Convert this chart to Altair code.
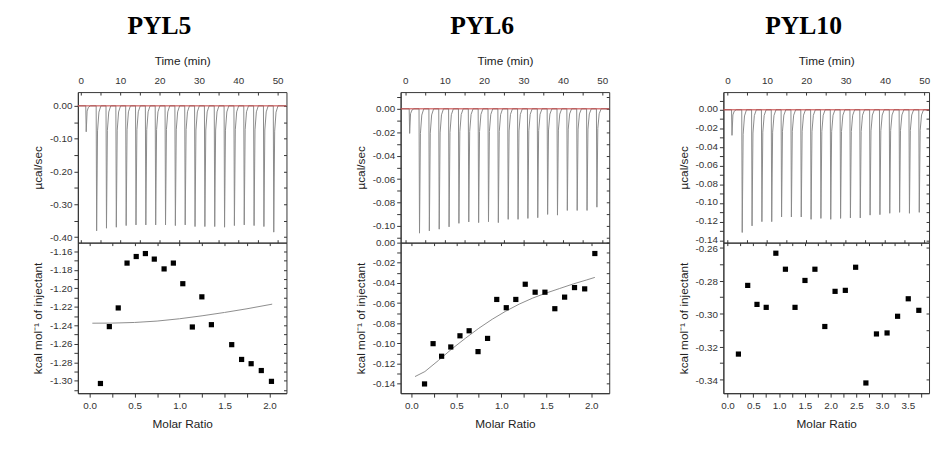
import json
import altair as alt
import pandas as pd

# ---------------- data ----------------
titles = ["PYL5", "PYL6", "PYL10"]

# raw thermograms: injection times (min) and peak heights (ucal/sec)
pyl5_time = [1.25, 3.9, 6.4, 8.9, 11.4, 13.9, 16.4, 18.9, 21.4, 23.9, 26.4,
             28.9, 31.4, 33.9, 36.4, 38.9, 41.4, 43.9, 46.4, 48.9]
pyl5_peak = [-0.079, -0.381, -0.373, -0.370, -0.365, -0.363, -0.363, -0.363,
             -0.363, -0.365, -0.363, -0.368, -0.368, -0.368, -0.370, -0.365,
             -0.363, -0.365, -0.368, -0.385]

pyl6_time = [1.0, 3.5, 6.0, 8.5, 11.0, 13.5, 16.0, 18.5, 21.0, 23.5, 26.0,
             28.5, 31.0, 33.5, 36.0, 38.5, 41.0, 43.5, 46.0, 48.5]
pyl6_peak = [-0.021, -0.1062, -0.1042, -0.1028, -0.1008, -0.0978, -0.0966,
             -0.0972, -0.0964, -0.0972, -0.0944, -0.0944, -0.0936, -0.0930,
             -0.0902, -0.0908, -0.0868, -0.0868, -0.0868, -0.0840]

pyl10_time = [1.0, 3.6, 6.1, 8.6, 11.1, 13.6, 16.1, 18.6, 21.1, 23.6, 26.1,
              28.6, 31.1, 33.6, 36.1, 38.6, 41.1, 43.6, 46.1, 48.6]
pyl10_peak = [-0.0274, -0.1316, -0.1245, -0.1200, -0.1200, -0.1150, -0.1150,
              -0.1150, -0.1175, -0.1165, -0.1175, -0.1165, -0.1160, -0.1160,
              -0.1130, -0.1125, -0.1110, -0.1100, -0.1110, -0.1100]

# integrated heats
pyl5_ratio = [0.12, 0.219, 0.318, 0.416, 0.518, 0.620, 0.719, 0.828, 0.931,
              1.036, 1.142, 1.248, 1.354, 1.580, 1.690, 1.796, 1.909, 2.022]
pyl5_heat = [-1.303, -1.2415, -1.2213, -1.1728, -1.1657, -1.1625, -1.1685,
             -1.1791, -1.1728, -1.1951, -1.2419, -1.2093, -1.2394, -1.261,
             -1.277, -1.2816, -1.289, -1.3007]
pyl5_fit_ratio = [0.03, 0.25, 0.5, 0.75, 1.0, 1.25, 1.5, 1.75, 2.03]
pyl5_fit_heat = [-1.2378, -1.2377, -1.2370, -1.2355, -1.2330, -1.2298,
                 -1.2262, -1.2222, -1.2172]

pyl6_ratio = [0.146, 0.241, 0.336, 0.438, 0.540, 0.642, 0.741, 0.847, 0.949,
              1.055, 1.161, 1.266, 1.376, 1.485, 1.595, 1.704, 1.814, 1.927, 2.04]
pyl6_heat = [-0.1403, -0.1003, -0.1128, -0.1036, -0.0925, -0.0875, -0.1082,
             -0.0951, -0.0564, -0.0646, -0.0564, -0.0413, -0.0492, -0.0492,
             -0.0656, -0.0541, -0.0446, -0.0459, -0.0108]
pyl6_fit_ratio = [0.04, 0.15, 0.3, 0.45, 0.6, 0.75, 0.9, 1.05, 1.2, 1.35,
                  1.5, 1.65, 1.8, 1.95, 2.04]
pyl6_fit_heat = [-0.1330, -0.1280, -0.1170, -0.1055, -0.0950, -0.0850,
                 -0.0760, -0.0680, -0.0610, -0.0550, -0.0500, -0.0455,
                 -0.0410, -0.0370, -0.0345]

pyl10_ratio = [0.212, 0.392, 0.572, 0.751, 0.938, 1.124, 1.31, 1.503, 1.696,
               1.888, 2.087, 2.286, 2.486, 2.685, 2.89, 3.096, 3.30, 3.507, 3.712]
pyl10_heat = [-0.3245, -0.2829, -0.2944, -0.2962, -0.2634, -0.2731, -0.2962,
              -0.2799, -0.2731, -0.3078, -0.2865, -0.2859, -0.2719, -0.342,
              -0.3123, -0.3117, -0.3016, -0.291, -0.298]

# axes: labelled (major) ticks and unlabelled (minor) ticks
time_major = [0, 10, 20, 30, 40, 50]
time_minor = [5, 15, 25, 35, 45]
top_y_major = [
    [0.0, -0.10, -0.20, -0.30, -0.40],
    [0.0, -0.02, -0.04, -0.06, -0.08, -0.10],
    [0.0, -0.02, -0.04, -0.06, -0.08, -0.10, -0.12, -0.14],
]
top_y_minor = [
    [-0.05, -0.15, -0.25, -0.35],
    [0.01, -0.01, -0.03, -0.05, -0.07, -0.09, -0.11],
    [0.01, -0.01, -0.03, -0.05, -0.07, -0.09, -0.11, -0.13],
]
bot_y_major = [
    [-1.16, -1.18, -1.20, -1.22, -1.24, -1.26, -1.28, -1.30],
    [0.0, -0.02, -0.04, -0.06, -0.08, -0.10, -0.12, -0.14],
    [-0.26, -0.28, -0.30, -0.32, -0.34],
]
bot_y_minor = [
    [-1.17, -1.19, -1.21, -1.23, -1.25, -1.27, -1.29, -1.31],
    [-0.01, -0.03, -0.05, -0.07, -0.09, -0.11, -0.13],
    [-0.27, -0.29, -0.31, -0.33],
]
bot_x_major = [
    [0.0, 0.5, 1.0, 1.5, 2.0],
    [0.0, 0.5, 1.0, 1.5, 2.0],
    [0.0, 0.5, 1.0, 1.5, 2.0, 2.5, 3.0, 3.5],
]
bot_x_minor = [
    [0.25, 0.75, 1.25, 1.75],
    [0.25, 0.75, 1.25, 1.75],
    [0.25, 0.75, 1.25, 1.75, 2.25, 2.75, 3.25, 3.75],
]
top_tdom = [[-0.75, 52.25], [-1.17, 51.75], [-1.07, 51.2]]
top_ydom = [[-0.417, 0.042], [-0.1143, 0.0143], [-0.1425, 0.0190]]
bot_xdom = [[-0.131, 2.189], [-0.12, 2.20], [-0.08, 3.91]]
bot_ydom = [[-1.3135, -1.1507], [-0.1495, 0.0], [-0.3482, -0.257]]
widths = [212, 212, 209]
H = 153
top_label_shift = [0, 0, -1]
bot_label_shift = [0, 0, 1]

# spike profile (shape of one injection peak)
SPIKE_DT = [0.0, 0.12, 0.35, 0.7, 1.2]
SPIKE_FRAC = [0.0, 1.0, 0.2, 0.05, 0.0]

INK = "#333333"


def trace_df(times, peaks, t0, t1):
    rows = [{"t": t0, "v": 0.0}]
    for t, p in zip(times, peaks):
        for dt, f in zip(SPIKE_DT, SPIKE_FRAC):
            rows.append({"t": t + dt, "v": p * f})
    rows.append({"t": t1, "v": 0.0})
    df = pd.DataFrame(rows)
    df["o"] = range(len(df))
    return df


def label_expr(major):
    return "indexof(" + json.dumps(major) + ", datum.value) >= 0 ? datum.label : ''"


def inner_ticks(field, scale, values, orient):
    """Invisible layer that only carries an inward-pointing tick axis."""
    ax = alt.Axis(orient=orient, values=values, labels=False, domain=False,
                  title=None, tickSize=3, offset=-3, ticks=True, tickColor=INK)
    df = pd.DataFrame({field: values})
    if orient in ("left", "right"):
        enc = {"y": alt.Y(f"{field}:Q", scale=scale, axis=ax)}
    else:
        enc = {"x": alt.X(f"{field}:Q", scale=scale, axis=ax)}
    return alt.Chart(df).mark_rule(opacity=0).encode(**enc)


def top_chart(i, times, peaks):
    df = trace_df(times, peaks, top_tdom[i][0], top_tdom[i][1])
    xs = alt.Scale(domain=top_tdom[i], nice=False, zero=False)
    ys = alt.Scale(domain=top_ydom[i], nice=False, zero=False)
    tvals = time_major + time_minor
    yvals = top_y_major[i] + top_y_minor[i]
    x = alt.X("t:Q", scale=xs,
              axis=alt.Axis(orient="top", title="Time (min)", values=tvals,
                            format="d", labelExpr=label_expr(time_major),
                            labelOverlap=False, tickSize=3, offset=-3,
                            domain=False, labelPadding=7, titlePadding=8))
    y = alt.Y("v:Q", scale=ys,
              axis=alt.Axis(title="µcal/sec", values=yvals, format=".2f",
                            labelExpr=label_expr(top_y_major[i]),
                            labelOffset=top_label_shift[i], labelOverlap=False))
    line = alt.Chart(df).mark_line(color="#8a8a8a", strokeWidth=1, clip=True).encode(
        x=x, y=y, order="o:Q")
    base = alt.Chart(pd.DataFrame({"v": [0.0]})).mark_rule(
        color="#c23b3b", strokeWidth=1).encode(y=alt.Y("v:Q", scale=ys, axis=None))
    rt = inner_ticks("v", ys, yvals, "right")
    bt = inner_ticks("t", xs, tvals, "bottom")
    return alt.layer(line, base, rt, bt).resolve_axis(
        x="independent", y="independent").properties(width=widths[i], height=H)


def bottom_chart(i, ratio, heat, fit_r=None, fit_h=None):
    xs = alt.Scale(domain=bot_xdom[i], nice=False, zero=False)
    ys = alt.Scale(domain=bot_ydom[i], nice=False, zero=False)
    xvals = bot_x_major[i] + bot_x_minor[i]
    yvals = bot_y_major[i] + bot_y_minor[i]
    x = alt.X("r:Q", scale=xs,
              axis=alt.Axis(orient="bottom", title="Molar Ratio", values=xvals,
                            format=".1f", labelExpr=label_expr(bot_x_major[i]),
                            labelOverlap=False, labelPadding=4, titlePadding=8))
    y = alt.Y("h:Q", scale=ys,
              axis=alt.Axis(title="kcal mol⁻¹ of injectant", values=yvals,
                            format=".2f", labelExpr=label_expr(bot_y_major[i]),
                            labelOffset=bot_label_shift[i], labelOverlap=False))
    layers = []
    if fit_r is not None:
        layers.append(alt.Chart(pd.DataFrame({"r": fit_r, "h": fit_h})).mark_line(
            color="#8c8c8c", strokeWidth=1).encode(
            x=alt.X("r:Q", scale=xs, axis=None), y=alt.Y("h:Q", scale=ys, axis=None)))
    layers.append(alt.Chart(pd.DataFrame({"r": ratio, "h": heat})).mark_square(
        size=28, color="black", opacity=1).encode(x=x, y=y))
    layers.append(inner_ticks("h", ys, yvals, "right"))
    layers.append(inner_ticks("r", xs, xvals, "top"))
    return alt.layer(*layers).resolve_axis(
        x="independent", y="independent").properties(width=widths[i], height=H)


def column(i, top, bottom):
    return alt.vconcat(
        top, bottom, spacing=0, bounds="flush",
        title=alt.TitleParams(titles[i], font="Liberation Serif", fontSize=26,
                              fontWeight="bold", color="black", offset=16,
                              anchor="middle"),
    )


c1 = column(0, top_chart(0, pyl5_time, pyl5_peak),
            bottom_chart(0, pyl5_ratio, pyl5_heat, pyl5_fit_ratio, pyl5_fit_heat))
c2 = column(1, top_chart(1, pyl6_time, pyl6_peak),
            bottom_chart(1, pyl6_ratio, pyl6_heat, pyl6_fit_ratio, pyl6_fit_heat))
c3 = column(2, top_chart(2, pyl10_time, pyl10_peak),
            bottom_chart(2, pyl10_ratio, pyl10_heat))

chart = alt.hconcat(c1, c2, c3, spacing=67).properties(
    padding={"left": 23, "top": 1, "right": 0, "bottom": 0}
).configure(
    background="white",
    locale=alt.Locale(number=alt.NumberLocale(decimal=".", thousands=",", grouping=[3],
                                              currency=["", ""], minus="-")),
).configure_view(
    stroke=INK, strokeWidth=1
).configure_axis(
    labelFont="Liberation Sans", labelFontSize=10, labelColor=INK,
    titleFont="Liberation Sans", titleFontSize=12, titleFontWeight="normal",
    titleColor="#222222", tickSize=4, tickColor=INK, domainColor=INK,
    labelPadding=2, titlePadding=5, grid=False, labelFlush=False, labelOverlap=False,
)

chart.save("out.html", embed_options={"renderer": "svg", "actions": False})
